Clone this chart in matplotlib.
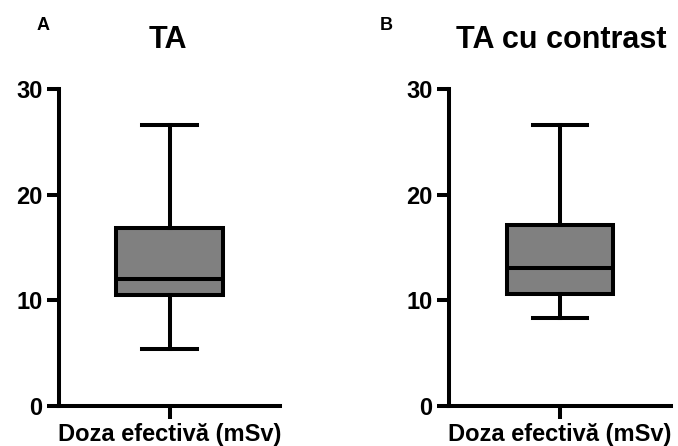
import matplotlib
matplotlib.use("Agg")
import matplotlib.pyplot as plt

# box statistics (mSv)
titles = ["TA", "TA cu contrast"]
letters = ["A", "B"]
whislo = [5.4, 8.3]
q1 = [10.5, 10.6]
med = [12.0, 13.1]
q3 = [16.8, 17.1]
whishi = [26.6, 26.6]
xlabel = "Doza efectivă (mSv)"
yticks = [0, 10, 20, 30]

plt.rcParams.update({
    "font.family": ["Liberation Sans", "DejaVu Sans"],
    "font.weight": "bold",
})

W, H = 678, 446
fig = plt.figure(figsize=(W / 100, H / 100), dpi=100)

LW = 2.9
axes_px = [(59, 280), (449, 671)]  # left/right of each axis in pixels
top_px, bot_px = 89, 406
letter_px = [(37, 30), (380, 30)]
title_x = [168, 561]

for i in range(2):
    l, r = axes_px[i]
    ax = fig.add_axes([l / W, 1 - bot_px / H, (r - l) / W, (bot_px - top_px) / H])
    stats = [{
        "whislo": whislo[i], "q1": q1[i], "med": med[i],
        "q3": q3[i], "whishi": whishi[i], "fliers": [],
    }]
    ax.bxp(stats, positions=[1], widths=0.96, patch_artist=True, showfliers=False,
           boxprops=dict(facecolor="#808080", edgecolor="black", linewidth=LW),
           medianprops=dict(color="black", linewidth=LW),
           whiskerprops=dict(color="black", linewidth=LW),
           capprops=dict(color="black", linewidth=LW),
           capwidths=0.49)
    ax.set_xlim(0, 2)
    ax.set_ylim(0, 30)
    ax.set_yticks(yticks)
    ax.set_xticks([1])
    ax.set_xticklabels([""])
    for s in ["top", "right"]:
        ax.spines[s].set_visible(False)
    for s in ["left", "bottom"]:
        ax.spines[s].set_linewidth(LW)
    ax.tick_params(axis="both", width=LW, length=9, labelsize=17, pad=3)
    for lab in ax.get_yticklabels():
        lab.set_fontweight("bold")
    ax.patch.set_visible(False)

    fig.text(title_x[i] / W, 1 - 48 / H, titles[i], ha="center", va="baseline",
             fontsize=22, fontweight="bold")
    fig.text(((l + r) / 2) / W, 1 - 441 / H, xlabel, ha="center", va="baseline",
             fontsize=17, fontweight="bold")
    fig.text(letter_px[i][0] / W, 1 - letter_px[i][1] / H, letters[i], ha="left",
             va="baseline", fontsize=13, fontweight="bold")

fig.savefig("out.png", dpi=100)
